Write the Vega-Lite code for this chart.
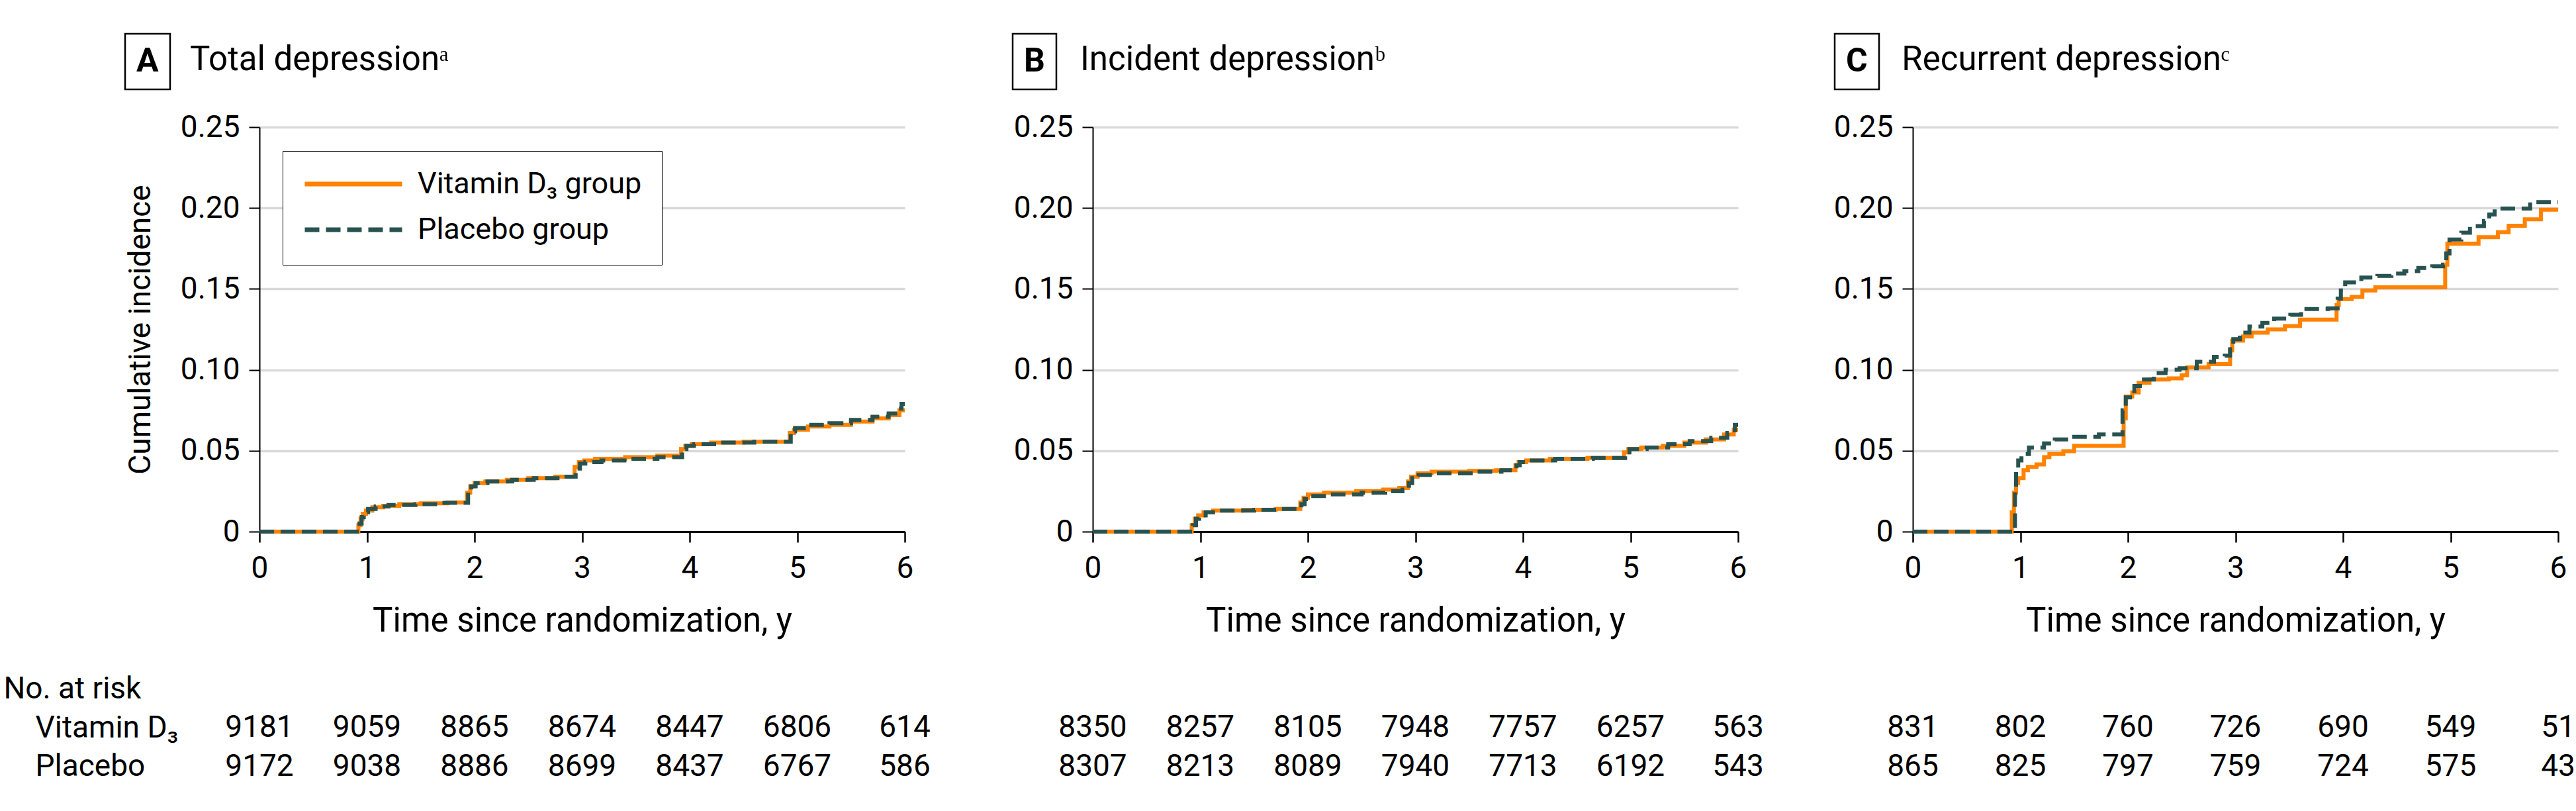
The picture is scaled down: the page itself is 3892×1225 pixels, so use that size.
{
"$schema": "https://vega.github.io/schema/vega-lite/v6.json",
"background": "white",
"padding": {"left": 5, "top": 49, "right": 0, "bottom": 0},
"datasets": {
"curves": [
{"panel":"A","group":"Vitamin D₃ group","t":0,"v":0},{"panel":"A","group":"Vitamin D₃ group","t":0.92,"v":0.004},{"panel":"A","group":"Vitamin D₃ group","t":0.94,"v":0.008},{"panel":"A","group":"Vitamin D₃ group","t":0.96,"v":0.011},{"panel":"A","group":"Vitamin D₃ group","t":0.99,"v":0.013},{"panel":"A","group":"Vitamin D₃ group","t":1.05,"v":0.015},{"panel":"A","group":"Vitamin D₃ group","t":1.15,"v":0.016},{"panel":"A","group":"Vitamin D₃ group","t":1.3,"v":0.017},{"panel":"A","group":"Vitamin D₃ group","t":1.5,"v":0.0175},{"panel":"A","group":"Vitamin D₃ group","t":1.75,"v":0.018},{"panel":"A","group":"Vitamin D₃ group","t":1.93,"v":0.024},{"panel":"A","group":"Vitamin D₃ group","t":1.96,"v":0.028},{"panel":"A","group":"Vitamin D₃ group","t":2.0,"v":0.030},{"panel":"A","group":"Vitamin D₃ group","t":2.1,"v":0.031},{"panel":"A","group":"Vitamin D₃ group","t":2.3,"v":0.032},{"panel":"A","group":"Vitamin D₃ group","t":2.5,"v":0.033},{"panel":"A","group":"Vitamin D₃ group","t":2.75,"v":0.034},{"panel":"A","group":"Vitamin D₃ group","t":2.93,"v":0.040},{"panel":"A","group":"Vitamin D₃ group","t":2.97,"v":0.043},{"panel":"A","group":"Vitamin D₃ group","t":3.02,"v":0.044},{"panel":"A","group":"Vitamin D₃ group","t":3.12,"v":0.045},{"panel":"A","group":"Vitamin D₃ group","t":3.4,"v":0.046},{"panel":"A","group":"Vitamin D₃ group","t":3.7,"v":0.047},{"panel":"A","group":"Vitamin D₃ group","t":3.92,"v":0.051},{"panel":"A","group":"Vitamin D₃ group","t":3.96,"v":0.053},{"panel":"A","group":"Vitamin D₃ group","t":4.02,"v":0.054},{"panel":"A","group":"Vitamin D₃ group","t":4.2,"v":0.055},{"panel":"A","group":"Vitamin D₃ group","t":4.5,"v":0.0555},{"panel":"A","group":"Vitamin D₃ group","t":4.93,"v":0.061},{"panel":"A","group":"Vitamin D₃ group","t":4.97,"v":0.063},{"panel":"A","group":"Vitamin D₃ group","t":5.1,"v":0.065},{"panel":"A","group":"Vitamin D₃ group","t":5.3,"v":0.066},{"panel":"A","group":"Vitamin D₃ group","t":5.5,"v":0.068},{"panel":"A","group":"Vitamin D₃ group","t":5.7,"v":0.070},{"panel":"A","group":"Vitamin D₃ group","t":5.85,"v":0.072},{"panel":"A","group":"Vitamin D₃ group","t":5.95,"v":0.075},{"panel":"A","group":"Vitamin D₃ group","t":6.0,"v":0.075},
{"panel":"A","group":"Placebo group","t":0,"v":0},{"panel":"A","group":"Placebo group","t":0.93,"v":0.005},{"panel":"A","group":"Placebo group","t":0.95,"v":0.009},{"panel":"A","group":"Placebo group","t":0.97,"v":0.012},{"panel":"A","group":"Placebo group","t":1.01,"v":0.014},{"panel":"A","group":"Placebo group","t":1.08,"v":0.0155},{"panel":"A","group":"Placebo group","t":1.2,"v":0.0165},{"panel":"A","group":"Placebo group","t":1.45,"v":0.017},{"panel":"A","group":"Placebo group","t":1.7,"v":0.0178},{"panel":"A","group":"Placebo group","t":1.94,"v":0.025},{"panel":"A","group":"Placebo group","t":1.97,"v":0.028},{"panel":"A","group":"Placebo group","t":2.01,"v":0.030},{"panel":"A","group":"Placebo group","t":2.12,"v":0.031},{"panel":"A","group":"Placebo group","t":2.35,"v":0.032},{"panel":"A","group":"Placebo group","t":2.55,"v":0.033},{"panel":"A","group":"Placebo group","t":2.8,"v":0.034},{"panel":"A","group":"Placebo group","t":2.94,"v":0.039},{"panel":"A","group":"Placebo group","t":2.98,"v":0.042},{"panel":"A","group":"Placebo group","t":3.03,"v":0.043},{"panel":"A","group":"Placebo group","t":3.18,"v":0.044},{"panel":"A","group":"Placebo group","t":3.45,"v":0.045},{"panel":"A","group":"Placebo group","t":3.7,"v":0.046},{"panel":"A","group":"Placebo group","t":3.93,"v":0.051},{"panel":"A","group":"Placebo group","t":3.97,"v":0.053},{"panel":"A","group":"Placebo group","t":4.04,"v":0.054},{"panel":"A","group":"Placebo group","t":4.25,"v":0.055},{"panel":"A","group":"Placebo group","t":4.6,"v":0.0555},{"panel":"A","group":"Placebo group","t":4.94,"v":0.062},{"panel":"A","group":"Placebo group","t":4.98,"v":0.064},{"panel":"A","group":"Placebo group","t":5.1,"v":0.066},{"panel":"A","group":"Placebo group","t":5.3,"v":0.067},{"panel":"A","group":"Placebo group","t":5.5,"v":0.069},{"panel":"A","group":"Placebo group","t":5.7,"v":0.071},{"panel":"A","group":"Placebo group","t":5.85,"v":0.073},{"panel":"A","group":"Placebo group","t":5.93,"v":0.076},{"panel":"A","group":"Placebo group","t":5.97,"v":0.079},{"panel":"A","group":"Placebo group","t":6.0,"v":0.079},
{"panel":"B","group":"Vitamin D₃ group","t":0,"v":0},{"panel":"B","group":"Vitamin D₃ group","t":0.92,"v":0.004},{"panel":"B","group":"Vitamin D₃ group","t":0.95,"v":0.008},{"panel":"B","group":"Vitamin D₃ group","t":0.98,"v":0.010},{"panel":"B","group":"Vitamin D₃ group","t":1.03,"v":0.012},{"panel":"B","group":"Vitamin D₃ group","t":1.12,"v":0.013},{"panel":"B","group":"Vitamin D₃ group","t":1.4,"v":0.0135},{"panel":"B","group":"Vitamin D₃ group","t":1.7,"v":0.014},{"panel":"B","group":"Vitamin D₃ group","t":1.93,"v":0.018},{"panel":"B","group":"Vitamin D₃ group","t":1.96,"v":0.021},{"panel":"B","group":"Vitamin D₃ group","t":2.0,"v":0.023},{"panel":"B","group":"Vitamin D₃ group","t":2.15,"v":0.024},{"panel":"B","group":"Vitamin D₃ group","t":2.45,"v":0.025},{"panel":"B","group":"Vitamin D₃ group","t":2.7,"v":0.026},{"panel":"B","group":"Vitamin D₃ group","t":2.85,"v":0.027},{"panel":"B","group":"Vitamin D₃ group","t":2.93,"v":0.031},{"panel":"B","group":"Vitamin D₃ group","t":2.96,"v":0.034},{"panel":"B","group":"Vitamin D₃ group","t":3.02,"v":0.036},{"panel":"B","group":"Vitamin D₃ group","t":3.15,"v":0.037},{"panel":"B","group":"Vitamin D₃ group","t":3.5,"v":0.0375},{"panel":"B","group":"Vitamin D₃ group","t":3.75,"v":0.038},{"panel":"B","group":"Vitamin D₃ group","t":3.93,"v":0.041},{"panel":"B","group":"Vitamin D₃ group","t":3.96,"v":0.043},{"panel":"B","group":"Vitamin D₃ group","t":4.03,"v":0.044},{"panel":"B","group":"Vitamin D₃ group","t":4.25,"v":0.045},{"panel":"B","group":"Vitamin D₃ group","t":4.6,"v":0.0455},{"panel":"B","group":"Vitamin D₃ group","t":4.94,"v":0.049},{"panel":"B","group":"Vitamin D₃ group","t":4.98,"v":0.051},{"panel":"B","group":"Vitamin D₃ group","t":5.1,"v":0.052},{"panel":"B","group":"Vitamin D₃ group","t":5.3,"v":0.053},{"panel":"B","group":"Vitamin D₃ group","t":5.5,"v":0.055},{"panel":"B","group":"Vitamin D₃ group","t":5.7,"v":0.057},{"panel":"B","group":"Vitamin D₃ group","t":5.87,"v":0.060},{"panel":"B","group":"Vitamin D₃ group","t":5.96,"v":0.063},{"panel":"B","group":"Vitamin D₃ group","t":6.0,"v":0.063},
{"panel":"B","group":"Placebo group","t":0,"v":0},{"panel":"B","group":"Placebo group","t":0.93,"v":0.004},{"panel":"B","group":"Placebo group","t":0.96,"v":0.008},{"panel":"B","group":"Placebo group","t":0.99,"v":0.010},{"panel":"B","group":"Placebo group","t":1.05,"v":0.012},{"panel":"B","group":"Placebo group","t":1.18,"v":0.013},{"panel":"B","group":"Placebo group","t":1.5,"v":0.0135},{"panel":"B","group":"Placebo group","t":1.75,"v":0.014},{"panel":"B","group":"Placebo group","t":1.94,"v":0.017},{"panel":"B","group":"Placebo group","t":1.97,"v":0.020},{"panel":"B","group":"Placebo group","t":2.02,"v":0.022},{"panel":"B","group":"Placebo group","t":2.2,"v":0.023},{"panel":"B","group":"Placebo group","t":2.5,"v":0.024},{"panel":"B","group":"Placebo group","t":2.72,"v":0.025},{"panel":"B","group":"Placebo group","t":2.88,"v":0.026},{"panel":"B","group":"Placebo group","t":2.94,"v":0.030},{"panel":"B","group":"Placebo group","t":2.97,"v":0.033},{"panel":"B","group":"Placebo group","t":3.03,"v":0.035},{"panel":"B","group":"Placebo group","t":3.2,"v":0.036},{"panel":"B","group":"Placebo group","t":3.55,"v":0.037},{"panel":"B","group":"Placebo group","t":3.8,"v":0.038},{"panel":"B","group":"Placebo group","t":3.94,"v":0.041},{"panel":"B","group":"Placebo group","t":3.97,"v":0.043},{"panel":"B","group":"Placebo group","t":4.04,"v":0.044},{"panel":"B","group":"Placebo group","t":4.3,"v":0.045},{"panel":"B","group":"Placebo group","t":4.65,"v":0.0455},{"panel":"B","group":"Placebo group","t":4.95,"v":0.049},{"panel":"B","group":"Placebo group","t":4.99,"v":0.051},{"panel":"B","group":"Placebo group","t":5.15,"v":0.052},{"panel":"B","group":"Placebo group","t":5.35,"v":0.054},{"panel":"B","group":"Placebo group","t":5.55,"v":0.056},{"panel":"B","group":"Placebo group","t":5.75,"v":0.058},{"panel":"B","group":"Placebo group","t":5.9,"v":0.061},{"panel":"B","group":"Placebo group","t":5.97,"v":0.066},{"panel":"B","group":"Placebo group","t":6.0,"v":0.066},
{"panel":"C","group":"Vitamin D₃ group","t":0,"v":0},{"panel":"C","group":"Vitamin D₃ group","t":0.92,"v":0.012},{"panel":"C","group":"Vitamin D₃ group","t":0.94,"v":0.024},{"panel":"C","group":"Vitamin D₃ group","t":0.96,"v":0.030},{"panel":"C","group":"Vitamin D₃ group","t":0.98,"v":0.033},{"panel":"C","group":"Vitamin D₃ group","t":1.03,"v":0.038},{"panel":"C","group":"Vitamin D₃ group","t":1.07,"v":0.040},{"panel":"C","group":"Vitamin D₃ group","t":1.15,"v":0.0415},{"panel":"C","group":"Vitamin D₃ group","t":1.22,"v":0.046},{"panel":"C","group":"Vitamin D₃ group","t":1.27,"v":0.048},{"panel":"C","group":"Vitamin D₃ group","t":1.4,"v":0.0497},{"panel":"C","group":"Vitamin D₃ group","t":1.5,"v":0.053},{"panel":"C","group":"Vitamin D₃ group","t":1.96,"v":0.070},{"panel":"C","group":"Vitamin D₃ group","t":1.98,"v":0.0835},{"panel":"C","group":"Vitamin D₃ group","t":2.04,"v":0.086},{"panel":"C","group":"Vitamin D₃ group","t":2.1,"v":0.092},{"panel":"C","group":"Vitamin D₃ group","t":2.2,"v":0.094},{"panel":"C","group":"Vitamin D₃ group","t":2.38,"v":0.0947},{"panel":"C","group":"Vitamin D₃ group","t":2.5,"v":0.0967},{"panel":"C","group":"Vitamin D₃ group","t":2.55,"v":0.1015},{"panel":"C","group":"Vitamin D₃ group","t":2.75,"v":0.1035},{"panel":"C","group":"Vitamin D₃ group","t":2.95,"v":0.112},{"panel":"C","group":"Vitamin D₃ group","t":2.97,"v":0.118},{"panel":"C","group":"Vitamin D₃ group","t":3.07,"v":0.1206},{"panel":"C","group":"Vitamin D₃ group","t":3.15,"v":0.123},{"panel":"C","group":"Vitamin D₃ group","t":3.3,"v":0.125},{"panel":"C","group":"Vitamin D₃ group","t":3.46,"v":0.127},{"panel":"C","group":"Vitamin D₃ group","t":3.6,"v":0.131},{"panel":"C","group":"Vitamin D₃ group","t":3.94,"v":0.140},{"panel":"C","group":"Vitamin D₃ group","t":3.96,"v":0.1437},{"panel":"C","group":"Vitamin D₃ group","t":4.08,"v":0.145},{"panel":"C","group":"Vitamin D₃ group","t":4.18,"v":0.149},{"panel":"C","group":"Vitamin D₃ group","t":4.3,"v":0.151},{"panel":"C","group":"Vitamin D₃ group","t":4.95,"v":0.165},{"panel":"C","group":"Vitamin D₃ group","t":4.97,"v":0.178},{"panel":"C","group":"Vitamin D₃ group","t":5.26,"v":0.182},{"panel":"C","group":"Vitamin D₃ group","t":5.44,"v":0.185},{"panel":"C","group":"Vitamin D₃ group","t":5.54,"v":0.189},{"panel":"C","group":"Vitamin D₃ group","t":5.69,"v":0.193},{"panel":"C","group":"Vitamin D₃ group","t":5.84,"v":0.199},{"panel":"C","group":"Vitamin D₃ group","t":6.0,"v":0.199},
{"panel":"C","group":"Placebo group","t":0,"v":0},{"panel":"C","group":"Placebo group","t":0.95,"v":0.025},{"panel":"C","group":"Placebo group","t":0.96,"v":0.037},{"panel":"C","group":"Placebo group","t":0.98,"v":0.044},{"panel":"C","group":"Placebo group","t":1.01,"v":0.048},{"panel":"C","group":"Placebo group","t":1.08,"v":0.052},{"panel":"C","group":"Placebo group","t":1.22,"v":0.0545},{"panel":"C","group":"Placebo group","t":1.32,"v":0.057},{"panel":"C","group":"Placebo group","t":1.48,"v":0.0586},{"panel":"C","group":"Placebo group","t":1.73,"v":0.060},{"panel":"C","group":"Placebo group","t":1.95,"v":0.075},{"panel":"C","group":"Placebo group","t":1.98,"v":0.083},{"panel":"C","group":"Placebo group","t":2.06,"v":0.090},{"panel":"C","group":"Placebo group","t":2.13,"v":0.094},{"panel":"C","group":"Placebo group","t":2.24,"v":0.098},{"panel":"C","group":"Placebo group","t":2.35,"v":0.100},{"panel":"C","group":"Placebo group","t":2.48,"v":0.101},{"panel":"C","group":"Placebo group","t":2.64,"v":0.105},{"panel":"C","group":"Placebo group","t":2.8,"v":0.108},{"panel":"C","group":"Placebo group","t":2.9,"v":0.1087},{"panel":"C","group":"Placebo group","t":2.95,"v":0.115},{"panel":"C","group":"Placebo group","t":2.98,"v":0.119},{"panel":"C","group":"Placebo group","t":3.04,"v":0.123},{"panel":"C","group":"Placebo group","t":3.13,"v":0.1267},{"panel":"C","group":"Placebo group","t":3.25,"v":0.129},{"panel":"C","group":"Placebo group","t":3.36,"v":0.1317},{"panel":"C","group":"Placebo group","t":3.51,"v":0.134},{"panel":"C","group":"Placebo group","t":3.61,"v":0.1376},{"panel":"C","group":"Placebo group","t":3.86,"v":0.138},{"panel":"C","group":"Placebo group","t":3.95,"v":0.144},{"panel":"C","group":"Placebo group","t":3.98,"v":0.149},{"panel":"C","group":"Placebo group","t":4.02,"v":0.154},{"panel":"C","group":"Placebo group","t":4.17,"v":0.157},{"panel":"C","group":"Placebo group","t":4.32,"v":0.158},{"panel":"C","group":"Placebo group","t":4.45,"v":0.1595},{"panel":"C","group":"Placebo group","t":4.57,"v":0.161},{"panel":"C","group":"Placebo group","t":4.7,"v":0.163},{"panel":"C","group":"Placebo group","t":4.83,"v":0.164},{"panel":"C","group":"Placebo group","t":4.93,"v":0.165},{"panel":"C","group":"Placebo group","t":4.96,"v":0.172},{"panel":"C","group":"Placebo group","t":4.99,"v":0.1805},{"panel":"C","group":"Placebo group","t":5.1,"v":0.1847},{"panel":"C","group":"Placebo group","t":5.18,"v":0.1888},{"panel":"C","group":"Placebo group","t":5.31,"v":0.192},{"panel":"C","group":"Placebo group","t":5.36,"v":0.196},{"panel":"C","group":"Placebo group","t":5.41,"v":0.1997},{"panel":"C","group":"Placebo group","t":5.74,"v":0.2037},{"panel":"C","group":"Placebo group","t":6.0,"v":0.2037}
],
"atrisk": [
{"panel":"A","row":"Vitamin D₃","t":0,"n":9181},{"panel":"A","row":"Vitamin D₃","t":1,"n":9059},{"panel":"A","row":"Vitamin D₃","t":2,"n":8865},{"panel":"A","row":"Vitamin D₃","t":3,"n":8674},{"panel":"A","row":"Vitamin D₃","t":4,"n":8447},{"panel":"A","row":"Vitamin D₃","t":5,"n":6806},{"panel":"A","row":"Vitamin D₃","t":6,"n":614},
{"panel":"A","row":"Placebo","t":0,"n":9172},{"panel":"A","row":"Placebo","t":1,"n":9038},{"panel":"A","row":"Placebo","t":2,"n":8886},{"panel":"A","row":"Placebo","t":3,"n":8699},{"panel":"A","row":"Placebo","t":4,"n":8437},{"panel":"A","row":"Placebo","t":5,"n":6767},{"panel":"A","row":"Placebo","t":6,"n":586},
{"panel":"B","row":"Vitamin D₃","t":0,"n":8350},{"panel":"B","row":"Vitamin D₃","t":1,"n":8257},{"panel":"B","row":"Vitamin D₃","t":2,"n":8105},{"panel":"B","row":"Vitamin D₃","t":3,"n":7948},{"panel":"B","row":"Vitamin D₃","t":4,"n":7757},{"panel":"B","row":"Vitamin D₃","t":5,"n":6257},{"panel":"B","row":"Vitamin D₃","t":6,"n":563},
{"panel":"B","row":"Placebo","t":0,"n":8307},{"panel":"B","row":"Placebo","t":1,"n":8213},{"panel":"B","row":"Placebo","t":2,"n":8089},{"panel":"B","row":"Placebo","t":3,"n":7940},{"panel":"B","row":"Placebo","t":4,"n":7713},{"panel":"B","row":"Placebo","t":5,"n":6192},{"panel":"B","row":"Placebo","t":6,"n":543},
{"panel":"C","row":"Vitamin D₃","t":0,"n":831},{"panel":"C","row":"Vitamin D₃","t":1,"n":802},{"panel":"C","row":"Vitamin D₃","t":2,"n":760},{"panel":"C","row":"Vitamin D₃","t":3,"n":726},{"panel":"C","row":"Vitamin D₃","t":4,"n":690},{"panel":"C","row":"Vitamin D₃","t":5,"n":549},{"panel":"C","row":"Vitamin D₃","t":6,"n":51},
{"panel":"C","row":"Placebo","t":0,"n":865},{"panel":"C","row":"Placebo","t":1,"n":825},{"panel":"C","row":"Placebo","t":2,"n":797},{"panel":"C","row":"Placebo","t":3,"n":759},{"panel":"C","row":"Placebo","t":4,"n":724},{"panel":"C","row":"Placebo","t":5,"n":575},{"panel":"C","row":"Placebo","t":6,"n":43}
]
},
"spacing": 105,
"resolve": {"scale": {"color": "independent", "strokeDash": "independent", "opacity": "independent"}, "legend": {"color": "independent", "strokeDash": "independent", "opacity": "independent"}},
"hconcat": [
{
"title": {"text": "Total depressionᵃ", "anchor": "start", "frame": "bounds", "dx": 282, "dy": 107, "offset": 0, "fontSize": 51, "fontWeight": "normal", "baseline": "alphabetic"},
"spacing": 54,
"vconcat": [
{
"width": 975, "height": 611,
"data": {"name": "curves"},
"transform": [{"filter": "datum.panel == 'A'"}],
"mark": {"type": "line", "interpolate": "step-after", "strokeWidth": 6, "strokeCap": "butt"},
"encoding": {
"x": {"field": "t", "type": "quantitative", "scale": {"domain": [0, 6], "nice": false}, "axis": {"values": [0,1,2,3,4,5,6], "format": "d", "grid": false, "domainWidth": 3, "tickWidth": 2.5, "tickSize": 16, "labelPadding": 17, "labelFontSize": 46, "labelFlush": false, "title": "Time since randomization, y", "titleFontSize": 51, "titleFontWeight": "normal", "titlePadding": 32}},
"y": {"field": "v", "type": "quantitative", "scale": {"domain": [0, 0.25], "nice": false}, "axis": {"values": [0,0.05,0.1,0.15,0.2,0.25], "labelExpr": "datum.value == 0 ? '0' : format(datum.value, '.2f')", "grid": true, "gridColor": "#D9D9D9", "gridWidth": 3.5, "domainWidth": 2, "tickWidth": 2, "tickSize": 16, "labelPadding": 14, "labelFontSize": 46, "labelFlush": false, "title": "Cumulative incidence", "titleFontSize": 46, "titleFontWeight": "normal", "titlePadding": 36}},
"color": {"field": "group", "type": "nominal", "scale": {"domain": ["Vitamin D₃ group", "Placebo group"], "range": ["#FF8200", "#28524F"]}, "legend": {"title": null, "orient": "none", "legendX": 35, "legendY": 36, "padding": 30, "rowPadding": 24, "clipHeight": 40, "labelFontSize": 45, "labelColor": "black", "labelOffset": 20, "labelLimit": 0, "symbolType": "stroke", "symbolSize": 21609, "symbolStrokeWidth": 7, "strokeColor": "black", "fillColor": "white"}},
"strokeDash": {"field": "group", "type": "nominal", "scale": {"domain": ["Vitamin D₃ group", "Placebo group"], "range": [[1, 0], [22, 10]]}, "legend": {"title": null, "orient": "none", "legendX": 35, "legendY": 36, "padding": 30, "rowPadding": 24, "clipHeight": 40, "labelFontSize": 45, "labelColor": "black", "labelOffset": 20, "labelLimit": 0, "symbolType": "stroke", "symbolSize": 21609, "symbolStrokeWidth": 7, "strokeColor": "black", "fillColor": "white"}},
"opacity": {"field": "panel", "type": "ordinal", "scale": {"range": [1, 1]}, "legend": {"title": "A", "values": [], "orient": "none", "legendX": -203, "legendY": -141, "padding": 17, "titlePadding": 0, "titleFontSize": 50, "titleFontWeight": "bold", "titleColor": "black", "titleFont": "Roboto", "strokeColor": "black", "encode": {"legend": {"update": {"strokeWidth": {"value": 2.5}}}}}}
}
},
{
"width": 975, "height": 176,
"data": {"name": "atrisk"},
"transform": [{"filter": "datum.panel == 'A'"}],
"mark": {"type": "text", "fontSize": 46, "baseline": "alphabetic", "align": "center", "color": "black"},
"encoding": {
"x": {"field": "t", "type": "quantitative", "scale": {"domain": [0, 6], "nice": false}, "axis": null},
"y": {"field": "row", "type": "nominal", "scale": {"type": "point", "domain": ["No. at risk", "Vitamin D₃", "Placebo"], "padding": 0.5}, "axis": {"title": null, "domain": false, "ticks": false, "grid": false, "labelAlign": "left", "labelBaseline": "alphabetic", "labelFontSize": 46, "labelLimit": 0, "labelPadding": {"condition": {"test": "datum.value == 'No. at risk'", "value": 387}, "value": 339}}},
"text": {"field": "n", "type": "quantitative", "format": "d"}
}
}
]
},
{
"title": {"text": "Incident depressionᵇ", "anchor": "start", "frame": "bounds", "dx": 121, "dy": 107, "offset": 0, "fontSize": 51, "fontWeight": "normal", "baseline": "alphabetic"},
"spacing": 54,
"vconcat": [
{
"width": 975, "height": 611,
"data": {"name": "curves"},
"transform": [{"filter": "datum.panel == 'B'"}],
"mark": {"type": "line", "interpolate": "step-after", "strokeWidth": 6, "strokeCap": "butt"},
"encoding": {
"x": {"field": "t", "type": "quantitative", "scale": {"domain": [0, 6], "nice": false}, "axis": {"values": [0,1,2,3,4,5,6], "format": "d", "grid": false, "domainWidth": 3, "tickWidth": 2.5, "tickSize": 16, "labelPadding": 17, "labelFontSize": 46, "labelFlush": false, "title": "Time since randomization, y", "titleFontSize": 51, "titleFontWeight": "normal", "titlePadding": 32}},
"y": {"field": "v", "type": "quantitative", "scale": {"domain": [0, 0.25], "nice": false}, "axis": {"values": [0,0.05,0.1,0.15,0.2,0.25], "labelExpr": "datum.value == 0 ? '0' : format(datum.value, '.2f')", "grid": true, "gridColor": "#D9D9D9", "gridWidth": 3.5, "domainWidth": 2, "tickWidth": 2, "tickSize": 16, "labelPadding": 14, "labelFontSize": 46, "labelFlush": false, "title": null}},
"color": {"field": "group", "type": "nominal", "scale": {"domain": ["Vitamin D₃ group", "Placebo group"], "range": ["#FF8200", "#28524F"]}, "legend": null},
"strokeDash": {"field": "group", "type": "nominal", "scale": {"domain": ["Vitamin D₃ group", "Placebo group"], "range": [[1, 0], [22, 10]]}, "legend": null},
"opacity": {"field": "panel", "type": "ordinal", "scale": {"range": [1, 1]}, "legend": {"title": "B", "values": [], "orient": "none", "legendX": -121, "legendY": -141, "padding": 17, "titlePadding": 0, "titleFontSize": 50, "titleFontWeight": "bold", "titleColor": "black", "titleFont": "Roboto", "strokeColor": "black", "encode": {"legend": {"update": {"strokeWidth": {"value": 2.5}}}}}}
}
},
{
"width": 975, "height": 176,
"data": {"name": "atrisk"},
"transform": [{"filter": "datum.panel == 'B'"}],
"mark": {"type": "text", "fontSize": 46, "baseline": "alphabetic", "align": "center", "color": "black"},
"encoding": {
"x": {"field": "t", "type": "quantitative", "scale": {"domain": [0, 6], "nice": false}, "axis": null},
"y": {"field": "row", "type": "nominal", "scale": {"type": "point", "domain": ["No. at risk", "Vitamin D₃", "Placebo"], "padding": 0.5}, "axis": {"title": null, "domain": false, "ticks": false, "grid": false, "labelAlign": "left", "labelBaseline": "alphabetic", "labelFontSize": 46, "labelExpr": "'\u00a0'", "labelPadding": 140}},
"text": {"field": "n", "type": "quantitative", "format": "d"}
}
}
]
},
{
"title": {"text": "Recurrent depressionᶜ", "anchor": "start", "frame": "bounds", "dx": 103, "dy": 107, "offset": 0, "fontSize": 51, "fontWeight": "normal", "baseline": "alphabetic"},
"spacing": 54,
"vconcat": [
{
"width": 975, "height": 611,
"data": {"name": "curves"},
"transform": [{"filter": "datum.panel == 'C'"}],
"mark": {"type": "line", "interpolate": "step-after", "strokeWidth": 6, "strokeCap": "butt"},
"encoding": {
"x": {"field": "t", "type": "quantitative", "scale": {"domain": [0, 6], "nice": false}, "axis": {"values": [0,1,2,3,4,5,6], "format": "d", "grid": false, "domainWidth": 3, "tickWidth": 2.5, "tickSize": 16, "labelPadding": 17, "labelFontSize": 46, "labelFlush": false, "title": "Time since randomization, y", "titleFontSize": 51, "titleFontWeight": "normal", "titlePadding": 32}},
"y": {"field": "v", "type": "quantitative", "scale": {"domain": [0, 0.25], "nice": false}, "axis": {"values": [0,0.05,0.1,0.15,0.2,0.25], "labelExpr": "datum.value == 0 ? '0' : format(datum.value, '.2f')", "grid": true, "gridColor": "#D9D9D9", "gridWidth": 3.5, "domainWidth": 2, "tickWidth": 2, "tickSize": 16, "labelPadding": 14, "labelFontSize": 46, "labelFlush": false, "title": null}},
"color": {"field": "group", "type": "nominal", "scale": {"domain": ["Vitamin D₃ group", "Placebo group"], "range": ["#FF8200", "#28524F"]}, "legend": null},
"strokeDash": {"field": "group", "type": "nominal", "scale": {"domain": ["Vitamin D₃ group", "Placebo group"], "range": [[1, 0], [22, 10]]}, "legend": null},
"opacity": {"field": "panel", "type": "ordinal", "scale": {"range": [1, 1]}, "legend": {"title": "C", "values": [], "orient": "none", "legendX": -118, "legendY": -141, "padding": 17, "titlePadding": 0, "titleFontSize": 50, "titleFontWeight": "bold", "titleColor": "black", "titleFont": "Roboto", "strokeColor": "black", "encode": {"legend": {"update": {"strokeWidth": {"value": 2.5}}}}}}
}
},
{
"width": 975, "height": 176,
"data": {"name": "atrisk"},
"transform": [{"filter": "datum.panel == 'C'"}],
"mark": {"type": "text", "fontSize": 46, "baseline": "alphabetic", "align": "center", "color": "black"},
"encoding": {
"x": {"field": "t", "type": "quantitative", "scale": {"domain": [0, 6], "nice": false}, "axis": null},
"y": {"field": "row", "type": "nominal", "scale": {"type": "point", "domain": ["No. at risk", "Vitamin D₃", "Placebo"], "padding": 0.5}, "axis": {"title": null, "domain": false, "ticks": false, "grid": false, "labelAlign": "left", "labelBaseline": "alphabetic", "labelFontSize": 46, "labelExpr": "'\u00a0'", "labelPadding": 70}},
"text": {"field": "n", "type": "quantitative", "format": "d"}
}
}
]
}
],
"config": {
"font": "Roboto",
"view": {"stroke": null},
"axis": {"labelColor": "black", "titleColor": "black", "domainColor": "black", "tickColor": "black", "labelFont": "Roboto", "titleFont": "Roboto"},
"title": {"font": "Roboto", "color": "black"},
"legend": {"labelFont": "Roboto"},
"text": {"font": "Roboto"}
}
}
